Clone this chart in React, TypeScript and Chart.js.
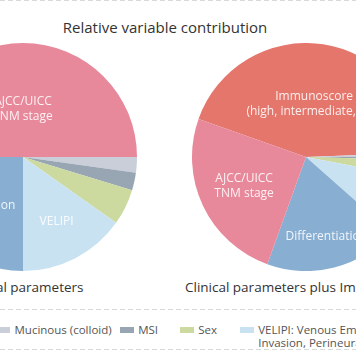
import React, { useEffect, useRef } from "react";
import { Chart, registerables } from "chart.js";

Chart.register(...registerables);

// Categories in the clockwise drawing order of the slices
const categories = [
  "Immunoscore (high, intermediate, low)",
  "Mucinous (colloid)",
  "MSI",
  "Sex",
  "VELIPI: Venous Emboli, Lymphatic Invasion, Perineural Invasion",
  "Differentiation",
  "AJCC/UICC TNM stage",
];
const sliceLabels = [
  ["Immunoscore", "(high, intermediate, low)"],
  [],
  [],
  [],
  ["VELIPI"],
  ["Differentiation"],
  ["AJCC/UICC", "TNM stage"],
];
const clinicalValues = [0, 2.2, 2.5, 5.1, 15.2, 25.0, 50.0];
const immunoscoreValues = [44.0, 0.6, 0.4, 2.6, 8.5, 19.0, 24.9];
const colors = ["#E4766C", "#C9CED8", "#98A6B4", "#CCDA9F", "#C9E2F1", "#88AED2", "#E8899B"];

const chartTitle = "Relative variable contribution";
const pieTitles = ["Clinical parameters", "Clinical parameters plus Immunoscore"];
const legendItems = [1, 2, 3, 4];
const legendLines: Record<number, string[]> = {
  4: ["VELIPI: Venous Emboli, Lymphatic", "Invasion, Perineural Invasion"],
};

const FONT = "'Open Sans', sans-serif";

const sliceLabelPlugin = {
  id: "sliceLabels",
  afterDatasetsDraw(chart: any) {
    const ctx = chart.ctx;
    const meta = chart.getDatasetMeta(0);
    const data = chart.data.datasets[0].data as number[];
    meta.data.forEach((arc: any, i: number) => {
      const lines = sliceLabels[i];
      if (!lines.length || data[i] < 8) return;
      const p = arc.getProps(["x", "y", "startAngle", "endAngle", "outerRadius"], true);
      const theta = p.endAngle - p.startAngle;
      const mid = (p.startAngle + p.endAngle) / 2;
      const centroid = (4 * p.outerRadius * Math.sin(theta / 2)) / (3 * theta);
      const d = theta < 1.3 && lines.length === 1 && data[i] > 16 ? p.outerRadius * 0.72 : centroid;
      const cx = p.x + Math.cos(mid) * d;
      const cy = p.y + Math.sin(mid) * d;
      ctx.save();
      ctx.font = "12px 'Open Sans'";
      ctx.fillStyle = "rgba(255,255,255,0.88)";
      ctx.textAlign = "center";
      ctx.textBaseline = "middle";
      const lh = 15;
      lines.forEach((t, k) => ctx.fillText(t, cx, cy + (k - (lines.length - 1) / 2) * lh));
      ctx.restore();
    });
  },
};

function Pie({ values, rotation, left, top }: { values: number[]; rotation: number; left: number; top: number }) {
  const ref = useRef<HTMLCanvasElement>(null);
  useEffect(() => {
    const chart = new Chart(ref.current as HTMLCanvasElement, {
      type: "pie",
      data: {
        labels: categories,
        datasets: [{ data: values, backgroundColor: colors, borderWidth: 0 }],
      },
      options: {
        responsive: false,
        animation: false,
        rotation,
        layout: { padding: 0 },
        events: [],
        plugins: { legend: { display: false }, tooltip: { enabled: false } },
      } as any,
      plugins: [sliceLabelPlugin as any],
    });
    return () => chart.destroy();
  }, []);
  return (
    <canvas
      ref={ref}
      width={228}
      height={228}
      style={{ position: "absolute", left, top, width: 228, height: 228, display: "block" }}
    />
  );
}

const dashed: React.CSSProperties = {
  position: "absolute",
  left: 0,
  width: 356,
  height: 1,
  backgroundImage: "repeating-linear-gradient(to right, #d9d9d9 0 5px, transparent 5px 8px)",
};

export default function App() {
  return (
    <div
      style={{
        position: "fixed",
        left: 0,
        top: 0,
        width: 356,
        height: 364,
        overflow: "hidden",
        background: "#fff",
        fontFamily: FONT,
        color: "#333",
      }}
    >
      <div style={{ ...dashed, top: 0 }} />
      <div
        style={{
          position: "absolute",
          left: 15,
          width: 300,
          top: 17,
          textAlign: "center",
          fontSize: 15,
          lineHeight: "20px",
          whiteSpace: "nowrap",
        }}
      >
        {chartTitle}
      </div>
      <Pie values={clinicalValues} rotation={90} left={23 - 114} top={43} />
      <Pie values={immunoscoreValues} rotation={289.5} left={306 - 114} top={43} />
      <div
        style={{
          position: "absolute",
          left: 23 - 120,
          width: 240,
          top: 277.5,
          textAlign: "center",
          fontSize: 13.5,
          lineHeight: "18px",
          whiteSpace: "nowrap",
        }}
      >
        {pieTitles[0]}
      </div>
      <div
        style={{
          position: "absolute",
          left: 306 - 150,
          width: 300,
          top: 277.5,
          textAlign: "center",
          fontSize: 13.5,
          lineHeight: "18px",
          whiteSpace: "nowrap",
        }}
      >
        {pieTitles[1]}
      </div>
      <div style={{ ...dashed, top: 309 }} />
      <div
        style={{
          position: "absolute",
          left: -4,
          top: 322.5,
          display: "flex",
          alignItems: "flex-start",
          fontSize: 11.5,
          lineHeight: "13px",
          color: "#555",
          whiteSpace: "nowrap",
        }}
      >
        {legendItems.map((i) => (
          <div key={i} style={{ display: "flex", alignItems: "flex-start", minWidth: 46, marginRight: i === 1 ? 8 : 14 }}>
            <div style={{ width: 14, height: 6, marginTop: 4, marginRight: 4.5, background: colors[i], flex: "none" }} />
            <div>
              {(legendLines[i] || [categories[i]]).map((t, k) => (
                <div key={k}>{t}</div>
              ))}
            </div>
          </div>
        ))}
      </div>
      <div style={{ ...dashed, top: 349 }} />
    </div>
  );
}
